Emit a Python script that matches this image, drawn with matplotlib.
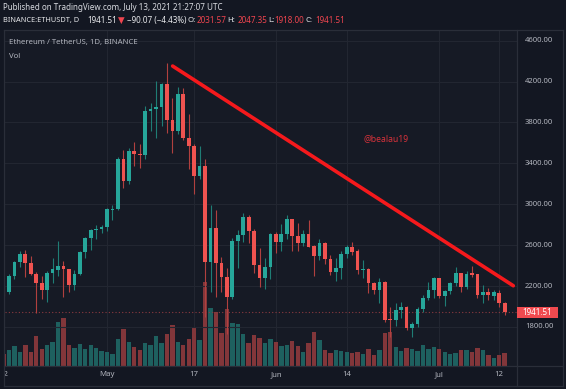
import matplotlib
matplotlib.use("Agg")
import matplotlib.pyplot as plt
import numpy as np
import pandas as pd
from matplotlib.lines import Line2D
from matplotlib.patches import Rectangle

# ---------------- data ----------------
dates = pd.date_range("2021-04-12", "2021-07-13", freq="D")
opens = [2150, 2138, 2299, 2432, 2514, 2422, 2315, 2234, 2162, 2331,
         2360, 2397, 2363, 2210, 2318, 2529, 2667, 2748, 2758, 2775,
         2944, 2952, 3440, 3231, 3524, 3489, 3479, 3912, 3932, 3951,
         4176, 3824, 3717, 4075, 3645, 3573, 3277, 3374, 2432, 2765,
         2422, 2285, 2090, 2644, 2700, 2879, 2738, 2405, 2276, 2383,
         2706, 2628, 2706, 2856, 2690, 2618, 2712, 2592, 2497, 2618,
         2465, 2340, 2373, 2513, 2579, 2543, 2357, 2364, 2227, 2162,
         2243, 1880, 1870, 1966, 1992, 1793, 1826, 1976, 2080, 2161,
         2276, 2103, 2151, 2227, 2325, 2188, 2325, 2318, 2112, 2145,
         2106, 2135, 2031.57]
highs = [2200, 2318, 2445, 2546, 2548, 2494, 2340, 2299, 2345, 2471,
         2644, 2448, 2370, 2357, 2540, 2676, 2757, 2797, 2797, 2960,
         2993, 3459, 3530, 3547, 3606, 3590, 3964, 3988, 4206, 4190,
         4379, 4037, 4150, 4134, 3880, 3590, 3570, 3440, 2993, 2944,
         2487, 2373, 2667, 2748, 2912, 2894, 2760, 2570, 2471, 2716,
         2732, 2804, 2892, 2860, 2820, 2748, 2846, 2600, 2657, 2630,
         2500, 2471, 2540, 2600, 2633, 2560, 2455, 2380, 2240, 2276,
         2250, 1992, 2037, 2040, 2000, 1851, 1996, 2110, 2243, 2290,
         2280, 2160, 2240, 2389, 2328, 2345, 2398, 2322, 2210, 2178,
         2160, 2161, 2047.35]
lows = [2107, 2122, 2269, 2389, 2291, 2306, 1935, 2070, 2047, 2227,
        2299, 2096, 2145, 2162, 2305, 2471, 2552, 2657, 2722, 2738,
        2846, 2940, 3156, 3195, 3377, 3352, 3443, 3717, 3651, 3769,
        3694, 3497, 3690, 3629, 3342, 3098, 3250, 1900, 2145, 2090,
        2139, 1730, 2070, 2373, 2634, 2618, 2325, 2194, 2171, 2266,
        2520, 2546, 2657, 2546, 2546, 2592, 2580, 2298, 2450, 2416,
        2310, 2252, 2270, 2470, 2504, 2320, 2276, 2129, 2125, 2031,
        1848, 1700, 1812, 1884, 1770, 1705, 1800, 1950, 2060, 2080,
        2080, 2005, 2120, 2200, 2145, 2170, 2292, 2080, 2037, 2064,
        2064, 1998, 1918.00]
closes = [2138, 2299, 2432, 2514, 2422, 2315, 2234, 2162, 2331, 2362,
          2397, 2363, 2210, 2318, 2529, 2667, 2748, 2758, 2775, 2950,
          2952, 3440, 3231, 3524, 3489, 3479, 3912, 3932, 3951, 4176,
          3824, 3717, 4075, 3645, 3573, 3277, 3374, 2432, 2765, 2422,
          2285, 2090, 2644, 2700, 2879, 2738, 2405, 2276, 2383, 2706,
          2628, 2706, 2856, 2690, 2618, 2712, 2585, 2497, 2618, 2465,
          2340, 2373, 2513, 2579, 2536, 2357, 2364, 2227, 2162, 2243,
          1868, 1870, 1966, 1992, 1793, 1826, 1976, 2080, 2161, 2276,
          2103, 2151, 2227, 2325, 2188, 2318, 2308, 2112, 2145, 2112,
          2139, 2031.58, 1941.51]
volumes = [360, 480, 580, 420, 610, 400, 890, 510, 610, 700,
           1310, 1420, 610, 530, 650, 490, 610, 530, 440, 420,
           360, 790, 1090, 710, 570, 460, 690, 610, 900, 670,
           950, 1220, 710, 630, 790, 1140, 770, 2510, 1730, 1610,
           990, 1710, 1290, 1260, 950, 670, 930, 830, 690, 790,
           710, 590, 630, 730, 590, 420, 690, 1020, 770, 460,
           380, 480, 440, 420, 380, 400, 360, 490, 320, 460,
           980, 1010, 570, 440, 530, 500, 440, 620, 500, 560,
           490, 420, 360, 380, 480, 480, 420, 540, 460, 310,
           240, 330, 380]

price_ticks = [1800, 2200, 2600, 3000, 3400, 3800, 4200, 4600]
time_tick_dates = ["2021-04-12", "2021-05-01", "2021-05-17", "2021-06-01",
                   "2021-06-14", "2021-07-01", "2021-07-12"]
time_tick_labels = ["12", "May", "17", "Jun", "14", "Jul", "12"]

trend_dates = ["2021-05-13 01:00", "2021-07-14 14:00"]
trend_prices = [4352, 2203]

title_line = "Published on TradingView.com, July 13, 2021 21:27:07 UTC"
symbol_line = "BINANCE:ETHUSDT, D"
legend_line = "Ethereum / TetherUS, 1D, BINANCE"
watermark = "@bealau19"

# ---------------- styles ----------------
W, H = 566, 389
BG = "#131722"
PANEL = "#161a25"
GRID = "#222631"
BORDER = "#2a2e39"
UP = "#26a69a"
DN = "#ef5350"
UP_WICK = "#1f7d75"
DN_WICK = "#b1403f"
UP_VOL = "#1e605f"
DN_VOL = "#82363a"
TXT = "#b2b5be"
FONT = ["Noto Sans", "DejaVu Sans"]

plt.rcParams["font.family"] = FONT

t0 = dates[0]
x = np.array([(d - t0).days for d in dates], dtype=float)
o = np.array(opens, float)
h = np.array(highs, float)
l = np.array(lows, float)
c = np.array(closes, float)
v = np.array(volumes, float)
up = c >= o


def fx(px):
    return px / W


def fy(py):
    return 1 - py / H


# pixel geometry
x0px, step = 3.55, 5.447
left_px, right_px = 4.5, 516.5
top_px, bot_px = 30.0, 365.5
y4600, ppp = 40.7, 0.10223  # px of 4600 and px per price unit

fig = plt.figure(figsize=(W / 100, H / 100), dpi=100, facecolor=BG)

pos = [fx(left_px), fy(bot_px), fx(right_px - left_px), (bot_px - top_px) / H]
vax = fig.add_axes(pos, facecolor=PANEL)
ax = fig.add_axes(pos, facecolor="none")
xlim = ((left_px - x0px) / step, (right_px - x0px) / step)
ylim = (4600 - (bot_px - y4600) / ppp, 4600 + (y4600 - top_px) / ppp)
for a in (vax, ax):
    a.set_xlim(*xlim)
    for s in a.spines.values():
        s.set_visible(False)
    a.set_xticks([])
    a.set_yticks([])
ax.set_ylim(*ylim)

# volume (tallest bar ~83.6 px high)
vax.set_ylim(0, v.max() * (bot_px - top_px) / 83.6)
vax.bar(x, v, width=0.8, color=np.where(up, UP_VOL, DN_VOL), zorder=2)

# grid
tick_x = np.array([(pd.Timestamp(d) - t0).days for d in time_tick_dates], float)
for tx in tick_x:
    vax.axvline(tx, color=GRID, lw=0.8, zorder=1)
for p in price_ticks:
    ax.axhline(p, color=GRID, lw=0.8, zorder=0.5)

# candles
ax.vlines(x, l, h, colors=np.where(up, UP_WICK, DN_WICK), lw=0.8, zorder=3)
body_h = np.maximum(np.abs(c - o), 9)
ax.bar(x, body_h, bottom=np.minimum(o, c), width=0.68,
       color=np.where(up, UP, DN), zorder=4, linewidth=0)

# last price dotted line
ax.axhline(c[-1], color="#8d3a40", lw=0.8, ls=(0, (1, 2)), zorder=2)

# trend line
tdx = [(pd.Timestamp(d) - t0) / pd.Timedelta(days=1) for d in trend_dates]
ax.plot(tdx, trend_prices, color="#f5191c", lw=2.6, solid_capstyle="round",
        zorder=6, clip_on=False)

# watermark
fig.text(fx(363), fy(139), watermark, color="#d8323b", fontsize=6.2,
         va="center", ha="left")

# legends
fig.text(fx(9), fy(42.5), legend_line, color=TXT, fontsize=5.6, va="center")
fig.text(fx(9), fy(56), "Vol", color=TXT, fontsize=5.6, va="center")

# price axis labels
for p in price_ticks:
    py = y4600 + (4600 - p) * ppp
    fig.text(fx(539), fy(py), f"{p:.2f}", color=TXT, fontsize=5.5,
             ha="center", va="center")

# last price box
ly = y4600 + (4600 - c[-1]) * ppp
fig.add_artist(Rectangle((fx(517), fy(ly + 5.8)), fx(41), 11.6 / H,
                         transform=fig.transFigure, facecolor="#f04a4f",
                         edgecolor="none", zorder=5))
fig.text(fx(537.5), fy(ly), f"{c[-1]:.2f}", color="white", fontsize=5.8,
         weight="bold", ha="center", va="center", zorder=6)

# time axis labels (clipped to panel)
tax = fig.add_axes([fx(left_px), fy(384.5), fx(right_px - left_px), 19 / H],
                   facecolor="none")
tax.set_xlim(*xlim)
tax.set_ylim(0, 1)
tax.axis("off")
for tx, lab in zip(tick_x, time_tick_labels):
    tax.text(tx, 0.5, lab, color=TXT, fontsize=5.6, ha="center",
             va="center", clip_on=True)

# frame lines
def hline(y, x1, x2):
    fig.add_artist(Line2D([fx(x1), fx(x2)], [fy(y), fy(y)], color=BORDER,
                          lw=0.9, transform=fig.transFigure))


def vline(xx, y1, y2):
    fig.add_artist(Line2D([fx(xx), fx(xx)], [fy(y1), fy(y2)], color=BORDER,
                          lw=0.9, transform=fig.transFigure))


hline(30, 4, 562.5)
hline(365.5, 4, 562.5)
hline(385.5, 4, 562.5)
vline(4, 30, 385.5)
vline(516.5, 30, 385.5)
vline(562.5, 30, 385.5)

# header
fig.text(fx(3), fy(8), title_line, color="#d8dae0", fontsize=5.8, va="center")
RED = "#f0454f"
WHITE = "#e8e9ec"
chg = c[-1] - c[-2]
pct = chg / c[-2] * 100
pieces = [
    (3.3, symbol_line, WHITE, "bold", FONT, 5.3),
    (87.3, f"{c[-1]:.2f}", WHITE, "normal", FONT, 5.8),
    (117.5, "\u25BC", RED, "normal", ["DejaVu Sans"], 6.2),
    (126.7, f"\u2212{abs(chg):.2f} (\u2212{abs(pct):.2f}%)", WHITE, "normal", FONT, 5.8),
    (187.7, "O:", WHITE, "bold", FONT, 5.6),
    (196.7, f"{o[-1]:.2f}", RED, "normal", FONT, 5.8),
    (227.7, "H:", WHITE, "bold", FONT, 5.6),
    (237.3, f"{h[-1]:.2f}", RED, "normal", FONT, 5.8),
    (268.3, "L:", WHITE, "bold", FONT, 5.6),
    (274.0, f"{l[-1]:.2f}", RED, "normal", FONT, 5.8),
    (305.7, "C:", WHITE, "bold", FONT, 5.6),
    (315.0, f"{c[-1]:.2f}", RED, "normal", FONT, 5.8),
]
for px_, txt, col, wt, fam, fs in pieces:
    fig.text(fx(px_), fy(20.5), txt, color=col, fontsize=fs, weight=wt,
             va="center", ha="left", family=fam)

fig.savefig("out.png", dpi=100, facecolor=BG)
